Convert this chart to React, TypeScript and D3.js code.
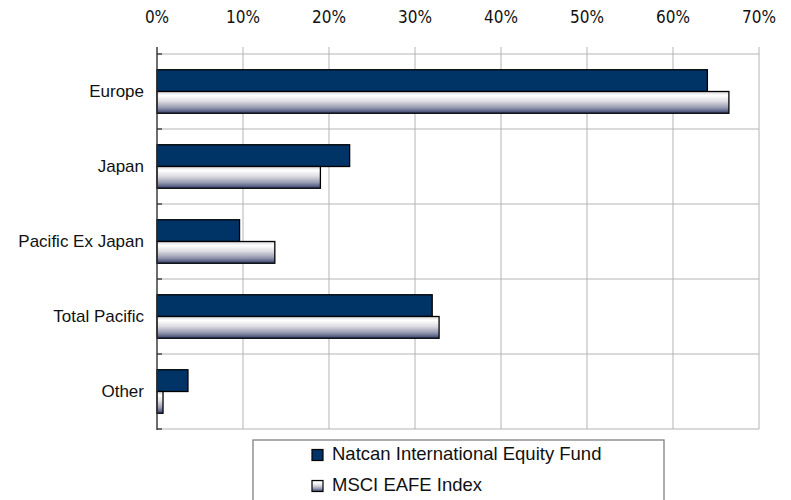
import React, { useEffect, useRef } from 'react';
import * as d3 from 'd3';

const categories = ['Europe', 'Japan', 'Pacific Ex Japan', 'Total Pacific', 'Other'];
const fundValues = [64.0, 22.4, 9.6, 32.0, 3.6];
const indexValues = [66.5, 19.0, 13.7, 32.8, 0.7];
const seriesNames = ['Natcan International Equity Fund', 'MSCI EAFE Index'];
const tickValues = [0, 10, 20, 30, 40, 50, 60, 70];

const WIDTH = 791;
const HEIGHT = 500;
const MARGIN = { top: 54, right: 32, bottom: 71, left: 157 };
const NAVY = '#003366';

const App: React.FC = () => {
  const svgRef = useRef<SVGSVGElement>(null);

  useEffect(() => {
    const svg = d3.select(svgRef.current);
    svg.selectAll('*').remove();

    const chartWidth = WIDTH - MARGIN.left - MARGIN.right;
    const chartHeight = HEIGHT - MARGIN.top - MARGIN.bottom;

    const xScale = d3.scaleLinear().domain([0, 70]).range([0, chartWidth]);
    const yScale = d3.scaleBand<string>()
      .domain(categories)
      .range([0, chartHeight])
      .paddingInner(0.42)
      .paddingOuter(0.21);
    const subScale = d3.scaleBand<number>().domain([0, 1]).range([0, yScale.bandwidth()]);

    // gradient for the index bars
    const defs = svg.append('defs');
    const grad = defs.append('linearGradient')
      .attr('id', 'idxGrad')
      .attr('x1', 0).attr('y1', 0).attr('x2', 0).attr('y2', 1);
    [['0%', '#d4d4da'], ['18%', '#ffffff'], ['45%', '#dcdce2'], ['75%', '#9599b0'], ['100%', '#34406c']]
      .forEach(([o, c]) => grad.append('stop').attr('offset', o).attr('stop-color', c));

    const g = svg.append('g').attr('transform', `translate(${MARGIN.left},${MARGIN.top})`);

    // vertical grid lines
    g.selectAll('.vgrid')
      .data(tickValues)
      .enter().append('line')
      .attr('x1', d => xScale(d)).attr('x2', d => xScale(d))
      .attr('y1', -7).attr('y2', chartHeight)
      .attr('stroke', '#b4b4b4').attr('stroke-width', 1);

    // horizontal grid lines at category boundaries
    const boundaries = d3.range(categories.length + 1).map(i => i * yScale.step());
    g.selectAll('.hgrid')
      .data(boundaries)
      .enter().append('line')
      .attr('x1', 0).attr('x2', chartWidth)
      .attr('y1', d => d).attr('y2', d => d)
      .attr('stroke', '#b4b4b4').attr('stroke-width', 1);

    // top axis labels
    g.selectAll('.xlabel')
      .data(tickValues)
      .enter().append('text')
      .attr('x', d => xScale(d))
      .attr('y', 22.5 - MARGIN.top)
      .attr('text-anchor', 'middle')
      .style('font-family', '"Liberation Sans Narrow", "DejaVu Sans Condensed", sans-serif')
      .style('font-size', '17px')
      .style('fill', '#111')
      .text(d => `${d}%`);

    // bars
    const groups = g.selectAll('.cat')
      .data(categories)
      .enter().append('g')
      .attr('transform', d => `translate(0,${yScale(d)})`);

    groups.append('rect')
      .attr('x', 0)
      .attr('y', subScale(0)!)
      .attr('width', (d, i) => xScale(fundValues[i]))
      .attr('height', subScale.bandwidth())
      .attr('fill', NAVY)
      .attr('stroke', '#000')
      .attr('stroke-width', 1.3);

    groups.append('rect')
      .attr('x', 0)
      .attr('y', subScale(1)!)
      .attr('width', (d, i) => xScale(indexValues[i]))
      .attr('height', subScale.bandwidth())
      .attr('fill', 'url(#idxGrad)')
      .attr('stroke', '#000')
      .attr('stroke-width', 1.3);

    // left axis
    g.append('line')
      .attr('x1', 0).attr('x2', 0)
      .attr('y1', -7).attr('y2', chartHeight + 1)
      .attr('stroke', '#333').attr('stroke-width', 1.3);
    g.selectAll('.ytick')
      .data(boundaries)
      .enter().append('line')
      .attr('x1', 0).attr('x2', 5)
      .attr('y1', d => d).attr('y2', d => d)
      .attr('stroke', '#333').attr('stroke-width', 1.3);

    // category labels
    g.selectAll('.ylabel')
      .data(categories)
      .enter().append('text')
      .attr('x', -13)
      .attr('y', d => yScale(d)! + yScale.bandwidth() / 2)
      .attr('dy', '0.35em')
      .attr('text-anchor', 'end')
      .style('font-family', '"Liberation Sans", Arial, sans-serif')
      .style('font-size', '17px')
      .style('fill', '#111')
      .text(d => d);

    // Legend
    const legend = svg.append('g').attr('transform', 'translate(253,440)');
    legend.append('rect')
      .attr('x', 0).attr('y', 0)
      .attr('width', 411).attr('height', 80)
      .attr('fill', '#fff')
      .attr('stroke', '#808080')
      .attr('stroke-width', 1.3);

    const items = legend.selectAll('.item')
      .data(seriesNames)
      .enter().append('g')
      .attr('transform', (d, i) => `translate(59,${20 + i * 31})`);

    items.append('rect')
      .attr('x', 0).attr('y', -10.5)
      .attr('width', 11).attr('height', 11)
      .attr('fill', (d, i) => (i === 0 ? NAVY : 'url(#idxGrad)'))
      .attr('stroke', '#000')
      .attr('stroke-width', 1.2);

    items.append('text')
      .attr('x', 20)
      .attr('y', 0)
      .style('font-family', '"Liberation Sans", Arial, sans-serif')
      .style('font-size', '18.5px')
      .style('fill', '#111')
      .text(d => d);
  }, []);

  return (
    <div style={{ position: 'absolute', left: 0, top: 0 }}>
      <svg ref={svgRef} width={WIDTH} height={HEIGHT} style={{ display: 'block', background: '#fff' }}></svg>
    </div>
  );
};

export default App;
